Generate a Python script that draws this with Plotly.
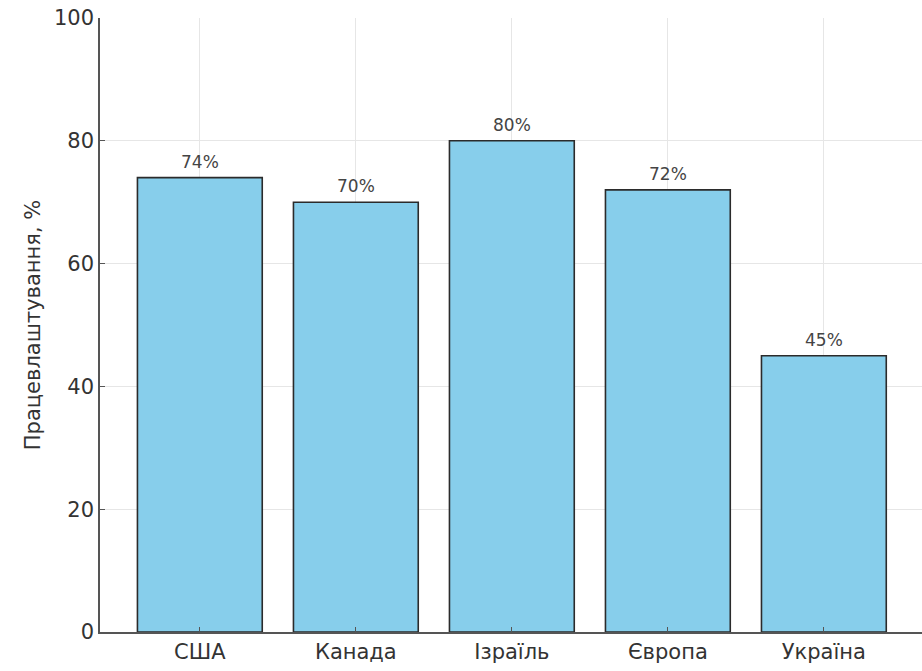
import plotly.graph_objects as go

# Employment rate by country/region
countries = ["США", "Канада", "Ізраїль", "Європа", "Україна"]
employment = [74, 70, 80, 72, 45]
y_ticks = [0, 20, 40, 60, 80, 100]

fig = go.Figure()
fig.add_trace(go.Bar(
    x=countries,
    y=employment,
    width=0.8,
    marker=dict(color="#87CEEB", line=dict(color="#2b2b2b", width=1.6)),
    hoverinfo="x+y",
))

for c, v in zip(countries, employment):
    fig.add_annotation(
        x=c, y=v, text=f"{v}%", showarrow=False,
        yanchor="bottom", yshift=4,
        font=dict(family="DejaVu Sans", size=17, color="#444444"),
    )

fig.update_layout(
    width=922, height=671,
    margin=dict(l=100, r=0, t=18, b=39),
    paper_bgcolor="white", plot_bgcolor="white",
    font=dict(family="DejaVu Sans", color="#333333"),
    showlegend=False,
    bargap=0.2,
)
fig.update_xaxes(
    range=[-0.64, 4.629],
    showgrid=True, gridcolor="#e6e6e6", gridwidth=1,
    showline=True, linecolor="#555555", linewidth=1.5,
    ticks="inside", ticklen=5, tickcolor="#555555",
    tickfont=dict(size=21, color="#333333"),
)
fig.update_yaxes(
    range=[0, 100], tickvals=y_ticks,
    title=dict(text="Працевлаштування, %", font=dict(size=21, color="#333333"), standoff=8),
    showgrid=True, gridcolor="#e6e6e6", gridwidth=1,
    showline=True, linecolor="#555555", linewidth=1.5,
    ticks="inside", ticklen=5, tickcolor="#555555",
    tickfont=dict(size=21, color="#333333"),
    zeroline=False,
)

fig.write_html("out.html")
